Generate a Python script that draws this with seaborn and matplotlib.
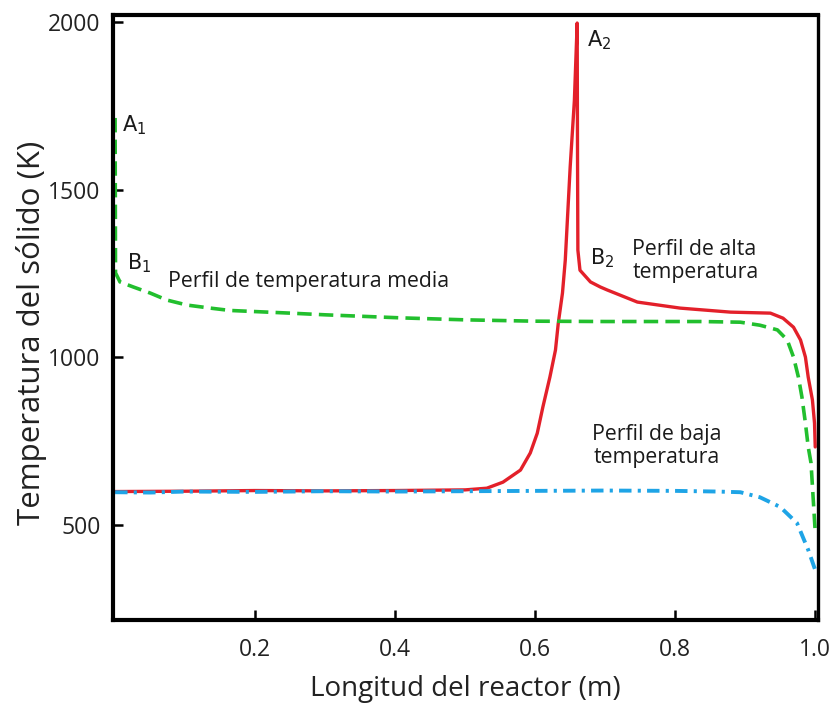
import numpy as np
import pandas as pd
import matplotlib
matplotlib.use("Agg")
import matplotlib.pyplot as plt
import seaborn as sns

# ---- data ----
green_x = [0.0, 0.0003, 0.0006, 0.007, 0.026, 0.05, 0.074, 0.103, 0.136, 0.164,
           0.25, 0.3, 0.407, 0.5, 0.6, 0.7, 0.836, 0.893, 0.921, 0.946, 0.960,
           0.969, 0.976, 0.981, 0.986, 0.990, 0.994, 1.0]
green_T = [1714, 1500, 1252, 1225, 1210, 1192, 1171, 1156, 1147, 1140,
           1132, 1127, 1118, 1112, 1108, 1107, 1107, 1105, 1096, 1082, 1052,
           1001, 941, 882, 804, 733, 685, 480]

red_x = [0.0, 0.1, 0.2, 0.3, 0.4, 0.5, 0.531, 0.554, 0.579, 0.593, 0.603, 0.611,
         0.621, 0.629, 0.633, 0.639, 0.643, 0.650, 0.656, 0.660, 0.6605, 0.661,
         0.664, 0.679, 0.693, 0.703, 0.746, 0.807, 0.879, 0.936, 0.954, 0.969,
         0.979, 0.986, 0.990, 0.996, 0.999, 1.0]
red_T = [600, 601, 603, 602, 603, 605, 610, 628, 664, 715, 774, 852,
         941, 1022, 1102, 1192, 1290, 1568, 1766, 1997, 1600, 1320,
         1260, 1225, 1210, 1201, 1165, 1147, 1135, 1132, 1117, 1090,
         1052, 1001, 941, 873, 804, 733]

blue_x = [0.0, 0.05, 0.1, 0.2, 0.3, 0.4, 0.5, 0.6, 0.7, 0.8, 0.86, 0.893, 0.921,
          0.95, 0.974, 0.990, 1.0]
blue_T = [598, 597, 600, 599, 601, 600, 601, 602, 603, 602, 600, 598, 583,
          554, 506, 426, 366]

x_ticks = [0.2, 0.4, 0.6, 0.8, 1.0]
x_ticklabels = ["0.2", "0.4", "0.6", "0.8", "1.0"]
y_ticks = [500, 1000, 1500, 2000]
y_ticklabels = ["500", "1000", "1500", "2000"]

xlabel = "Longitud del reactor (m)"
ylabel = "Temperatura del sólido (K)"

# ---- style ----
sns.set_theme(style="ticks")
plt.rcParams["font.family"] = ["Open Sans", "DejaVu Sans"]
plt.rcParams["mathtext.default"] = "regular"

fig = plt.figure(figsize=(8.32, 7.11), dpi=100)
ax = fig.add_axes([0.1358, 0.1280, 0.9832 - 0.1358, 0.9789 - 0.1280])

green_c = "#22bf2e"
red_c = "#e3202a"
blue_c = "#1ea4e6"

df_g = pd.DataFrame({"x": green_x, "T": green_T})
df_r = pd.DataFrame({"x": red_x, "T": red_T})
df_b = pd.DataFrame({"x": blue_x, "T": blue_T})

sns.lineplot(data=df_r, x="x", y="T", sort=False, estimator=None, ax=ax,
             color=red_c, linewidth=2.4)
sns.lineplot(data=df_g, x="x", y="T", sort=False, estimator=None, ax=ax,
             color=green_c, linewidth=2.6)
ax.lines[-1].set_dashes((4, 2))
sns.lineplot(data=df_b, x="x", y="T", sort=False, estimator=None, ax=ax,
             color=blue_c, linewidth=2.8)
ax.lines[-1].set_dashes((3.2, 1.6, 0.8, 1.6))

ax.set_xlim(-0.003, 1.004)
ax.set_ylim(217, 2021)
ax.set_xticks(x_ticks)
ax.set_xticklabels(x_ticklabels)
ax.set_yticks(y_ticks)
ax.set_yticklabels(y_ticklabels)
ax.tick_params(axis="both", direction="in", length=7, width=1.8, color="black",
               labelsize=16.5, labelcolor="#222222")
ax.tick_params(axis="x", pad=13)
ax.tick_params(axis="y", pad=9)

ax.set_xlabel(xlabel, fontsize=20, color="#222222", labelpad=9)
ax.set_ylabel(ylabel, fontsize=22.5, color="#222222")
ax.yaxis.set_label_coords(-0.094, 0.475)

for side in ["left", "bottom", "top"]:
    ax.spines[side].set_linewidth(3.0)
    ax.spines[side].set_color("black")
ax.spines["right"].set_linewidth(2.4)
ax.spines["right"].set_color("black")

# ---- annotations ----
tc = "#1a1a1a"
ax.text(0.010, 1693, "A$_1$", fontsize=15, color=tc, ha="left", va="center",
        family="DejaVu Sans")
ax.text(0.017, 1281, "B$_1$", fontsize=15, color=tc, ha="left", va="center",
        family="DejaVu Sans")
ax.text(0.674, 1946, "A$_2$", fontsize=15, color=tc, ha="left", va="center",
        family="DejaVu Sans")
ax.text(0.679, 1296, "B$_2$", fontsize=15, color=tc, ha="left", va="center",
        family="DejaVu Sans")
ax.text(0.076, 1225, "Perfil de temperatura media", fontsize=15.3, color=tc,
        ha="left", va="center")
ax.text(0.739, 1287, "Perfil de alta\ntemperatura", fontsize=15.3, color=tc,
        ha="left", va="center", linespacing=1.15)
ax.text(0.774, 736, "Perfil de baja\ntemperatura", fontsize=15.3, color=tc,
        ha="center", va="center", linespacing=1.15)

fig.savefig("out.png", dpi=100)
